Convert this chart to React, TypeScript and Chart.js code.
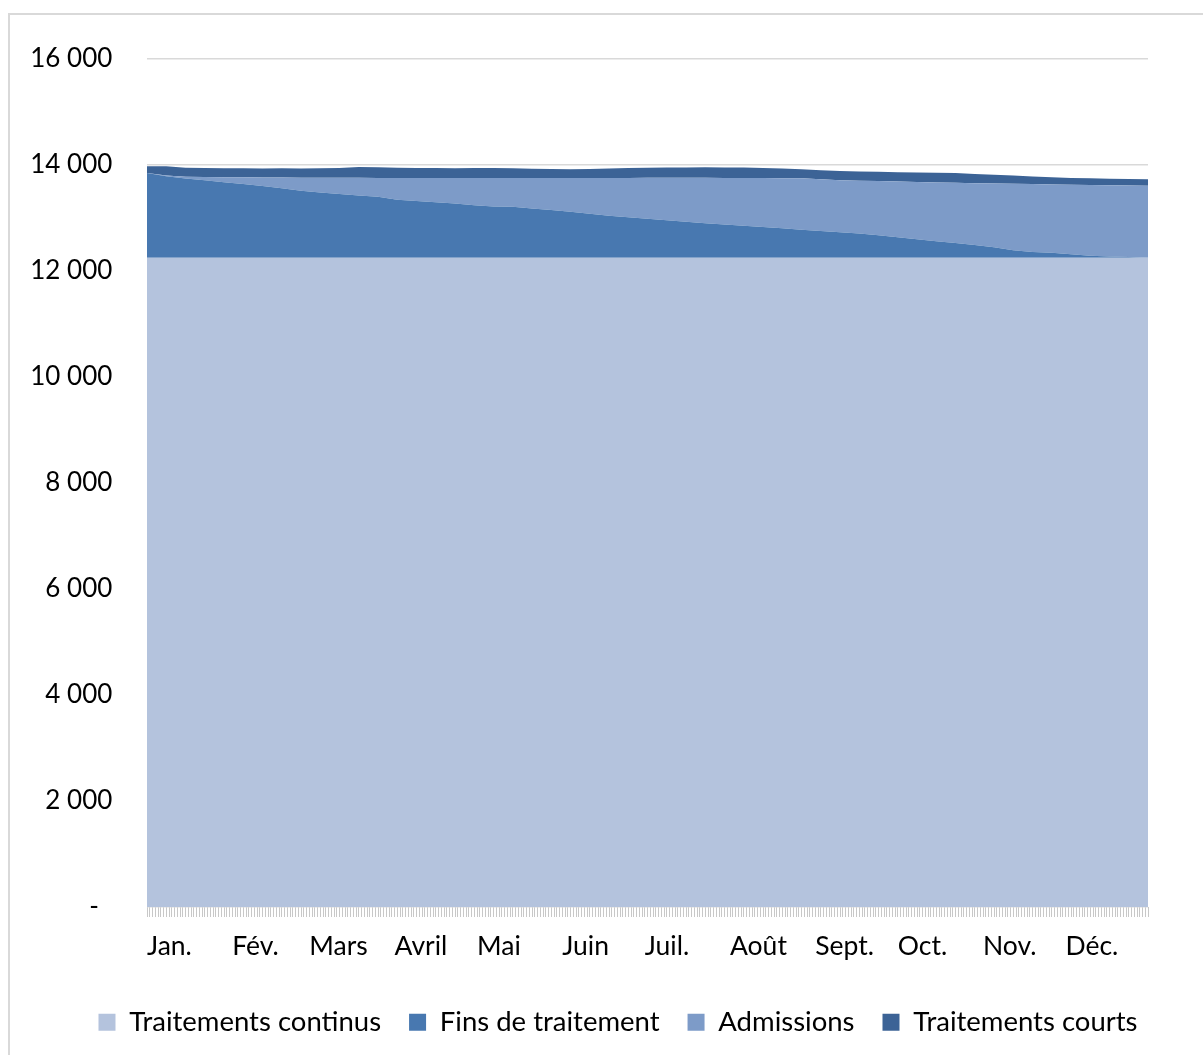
import React, { useEffect, useRef } from "react";
import { Chart, registerables } from "chart.js";

Chart.register(...registerables);

const days = [0, 7, 14, 21, 28, 35, 42, 49, 56, 63, 70, 77, 84, 91, 98, 105, 112, 119, 126, 133, 140, 147, 154, 161, 168, 175, 182, 189, 196, 203, 210, 217, 224, 231, 238, 245, 252, 259, 266, 273, 280, 287, 294, 301, 308, 315, 322, 329, 336, 343, 350, 357, 364];

const continus = [12250, 12250, 12250, 12250, 12250, 12250, 12250, 12250, 12250, 12250, 12250, 12250, 12250, 12250, 12250, 12250, 12250, 12250, 12250, 12250, 12250, 12250, 12250, 12250, 12250, 12250, 12250, 12250, 12250, 12250, 12250, 12250, 12250, 12250, 12250, 12250, 12250, 12250, 12250, 12250, 12250, 12250, 12250, 12250, 12250, 12250, 12250, 12250, 12250, 12250, 12250, 12250, 12250];

const fins = [1598, 1540, 1496, 1462, 1426, 1391, 1355, 1311, 1266, 1232, 1202, 1174, 1149, 1096, 1072, 1049, 1023, 992, 968, 960, 930, 902, 868, 828, 791, 764, 736, 708, 677, 653, 628, 604, 581, 557, 528, 504, 479, 458, 423, 385, 349, 313, 277, 240, 200, 142, 109, 92, 66, 38, 25, 15, 0];

const admissions = [0, 10, 30, 62, 94, 128, 160, 202, 243, 277, 308, 334, 358, 411, 434, 457, 483, 511, 536, 543, 574, 602, 636, 675, 715, 742, 772, 802, 832, 857, 879, 902, 923, 945, 972, 979, 985, 996, 1025, 1055, 1081, 1109, 1138, 1168, 1200, 1255, 1281, 1291, 1311, 1334, 1343, 1349, 1358];

const courts = [128, 175, 172, 168, 168, 170, 170, 177, 177, 179, 185, 202, 200, 191, 187, 189, 185, 189, 189, 185, 175, 170, 168, 172, 177, 187, 192, 194, 196, 198, 198, 196, 189, 181, 172, 168, 175, 175, 174, 172, 177, 181, 183, 172, 166, 155, 145, 138, 130, 126, 123, 123, 123];

const monthStarts = [0, 31, 59, 90, 120, 151, 181, 212, 243, 273, 304, 334];
const monthLabels = ["Jan.", "Fév.", "Mars", "Avril", "Mai", "Juin", "Juil.", "Août", "Sept.", "Oct.", "Nov.", "Déc."];

const seriesNames = ["Traitements continus", "Fins de traitement", "Admissions", "Traitements courts"];
const seriesColors = ["#b4c3dd", "#4878b0", "#7d9bc8", "#3c6396"];

function fmt(v: number): string {
  if (v === 0) return "-   ";
  const s = String(Math.round(v));
  return s.replace(/\B(?=(\d{3})+(?!\d))/g, " ") + " ";
}

export default function App() {
  const ref = useRef<HTMLCanvasElement | null>(null);

  useEffect(() => {
    if (!ref.current) return;
    Chart.defaults.font.family = "Lato";
    Chart.defaults.color = "#000";
    const series = [continus, fins, admissions, courts];
    const chart = new Chart(ref.current, {
      type: "line",
      data: {
        datasets: series.map((arr, k) => ({
          label: seriesNames[k],
          data: days.map((d, i) => ({ x: d, y: arr[i] })),
          backgroundColor: seriesColors[k],
          borderColor: seriesColors[k],
          borderWidth: 0,
          pointRadius: 0,
          fill: k === 0 ? "origin" : "-1",
          tension: 0,
        })),
      },
      options: {
        animation: false,
        responsive: true,
        maintainAspectRatio: false,
        events: [],
        layout: { padding: { left: 18, right: -5, top: 44, bottom: 9 } },
        plugins: {
          tooltip: { enabled: false },
          legend: {
            position: "bottom",
            labels: {
              boxWidth: 17,
              boxHeight: 17,
              padding: 28,
              font: { size: 27.5, family: "Lato" },
              color: "#000",
            },
          },
        },
        scales: {
          x: {
            type: "linear",
            min: 0,
            max: 364,
            grid: {
              drawOnChartArea: false,
              drawTicks: true,
              tickLength: 10,
              color: "#c8c8c8",
              lineWidth: 1,
            },
            border: { display: false },
            ticks: {
              stepSize: 1,
              autoSkip: false,
              maxRotation: 0,
              minRotation: 0,
              align: "start",
              padding: 14,
              font: { size: 26.5, family: "Lato" },
              color: "#000",
              callback: (value: any) => {
                const idx = monthStarts.indexOf(Number(value));
                return idx >= 0 ? monthLabels[idx] : "";
              },
            },
            afterFit: (scale: any) => {
              scale.height = 73.5;
            },
          },
          y: {
            stacked: true,
            min: 0,
            max: 16000,
            grid: { color: "#d9d9d9", lineWidth: 1.5, drawTicks: false },
            border: { display: false },
            ticks: {
              stepSize: 2000,
              padding: 28,
              font: { size: 26, family: "Lato" },
              color: "#000",
              callback: (value: any) => fmt(Number(value)),
            },
            afterFit: (scale: any) => {
              scale.width = 119;
            },
          },
          yRight: {
            position: "right",
            display: true,
            grid: { display: false, drawTicks: false },
            border: { display: false },
            ticks: { display: false },
            afterFit: (scale: any) => {
              scale.width = 60;
            },
          },
        },
      },
    });
    return () => chart.destroy();
  }, []);

  return (
    <div
      style={{
        position: "absolute",
        left: 8,
        top: 13,
        width: 1195,
        height: 1042,
        boxSizing: "border-box",
        borderTop: "2px solid #d9d9d9",
        borderLeft: "2px solid #d9d9d9",
      }}
    >
      <div style={{ position: "relative", width: "100%", height: "100%" }}>
        <canvas ref={ref} />
      </div>
    </div>
  );
}
